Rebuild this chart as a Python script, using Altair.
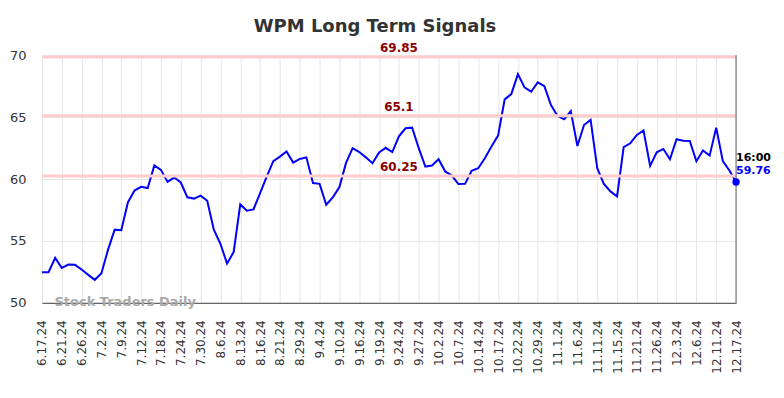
import altair as alt
import pandas as pd

labels = ["6.17.24", "6.21.24", "6.26.24", "7.2.24", "7.9.24", "7.12.24", "7.18.24",
          "7.24.24", "7.30.24", "8.6.24", "8.13.24", "8.16.24", "8.21.24", "8.29.24",
          "9.4.24", "9.10.24", "9.16.24", "9.19.24", "9.24.24", "9.27.24", "10.2.24",
          "10.7.24", "10.14.24", "10.17.24", "10.22.24", "10.29.24", "11.1.24", "11.6.24",
          "11.11.24", "11.15.24", "11.21.24", "11.26.24", "12.3.24", "12.6.24",
          "12.11.24", "12.17.24"]

values = [52.47, 52.47, 53.63, 52.82, 53.09, 53.07, 52.69, 52.26, 51.86, 52.39,
          54.30, 55.91, 55.86, 58.11, 59.07, 59.37, 59.27, 61.10, 60.74, 59.77,
          60.12, 59.72, 58.52, 58.42, 58.66, 58.24, 55.91, 54.77, 53.17, 54.10,
          57.95, 57.44, 57.55, 58.86, 60.20, 61.44, 61.81, 62.22, 61.33, 61.62,
          61.75, 59.67, 59.61, 57.92, 58.52, 59.35, 61.30, 62.49, 62.18, 61.75,
          61.28, 62.15, 62.52, 62.18, 63.45, 64.10, 64.15, 62.49, 61.01, 61.09,
          61.60, 60.61, 60.28, 59.59, 59.61, 60.66, 60.87, 61.68, 62.62, 63.51,
          66.43, 66.86, 68.47, 67.40, 67.05, 67.80, 67.50, 65.97, 65.09, 64.82,
          65.49, 62.67, 64.36, 64.77, 60.87, 59.61, 59.00, 58.59, 62.57, 62.89,
          63.56, 63.93, 61.06, 62.16, 62.43, 61.60, 63.21, 63.10, 63.08, 61.44,
          62.30, 61.89, 64.15, 61.44, 60.69, 59.76]

levels = [69.85, 65.1, 60.25]
level_text = ["69.85", "65.1", "60.25"]
level_pos = [54, 54, 54]
last_time = "16:00"
last_value = 59.76
watermark = "Stock Traders Daily"

n = len(values)
step = 3
df = pd.DataFrame({"i": list(range(n)), "v": values})
lv = pd.DataFrame({"v": levels, "t": level_text, "i": level_pos})
last = pd.DataFrame({"i": [n - 1], "v": [last_value], "t": [last_time],
                     "vt": [f"{last_value:.2f}"]})
wm = pd.DataFrame({"i": [1.9], "v": [50], "t": [watermark]})

arr = "[" + ",".join(f"'{s}'" for s in labels) + "]"
label_expr = f"{arr}[round(datum.value/{step})]"

FONT = "DejaVu Sans"

xscale = alt.Scale(domain=[0, n - 1], nice=False, zero=False, padding=0)
yscale = alt.Scale(domain=[50, 70], nice=False, zero=False)

x_axis = alt.Axis(values=list(range(0, n, step)), labelExpr=label_expr,
                  labelAngle=-90, labelFontSize=12, labelColor="#333333",
                  labelPadding=17, ticks=False, grid=True, gridColor="#e6e6e6",
                  domain=True, domainColor="#666666", domainWidth=1.2,
                  title=None, labelFont=FONT, labelOverlap=False)
y_axis = alt.Axis(values=[50, 55, 60, 65, 70], labelFontSize=13, labelColor="#333333",
                  labelPadding=16, ticks=False, grid=True, gridColor="#e6e6e6",
                  domain=False, title=None, labelFont=FONT)

X = alt.X("i:Q", scale=xscale, axis=x_axis)
Y = alt.Y("v:Q", scale=yscale, axis=y_axis)

line = alt.Chart(df).mark_line(color="#0000ff", strokeWidth=2).encode(x=X, y=Y)

rules = alt.Chart(lv).mark_rule(color="#ffcccc", strokeWidth=3).encode(y=Y)

level_labels = alt.Chart(lv).mark_text(
    color="#8b0000", fontWeight="bold", fontSize=12, font=FONT,
    baseline="alphabetic", align="center", dy=-5
).encode(x=X, y=Y, text="t:N")

right_rule = alt.Chart(last).mark_rule(color="#777777", strokeWidth=1.2).encode(x=X)

pt = alt.Chart(last).mark_circle(size=55, color="#0000ff", opacity=1).encode(x=X, y=Y)

t_time = alt.Chart(last).mark_text(
    color="#000000", fontWeight="bold", fontSize=11, font=FONT,
    align="left", baseline="middle", dy=-24
).encode(x=X, y=Y, text="t:N")

t_val = alt.Chart(last).mark_text(
    color="#0000ff", fontWeight="bold", fontSize=11, font=FONT,
    align="left", baseline="middle", dy=-11
).encode(x=X, y=Y, text="vt:N")

wm_text = alt.Chart(wm).mark_text(
    color="#aaaaaa", fontWeight="bold", fontSize=13, font=FONT,
    align="left", baseline="middle", dy=-1
).encode(x=X, y=Y, text="t:N")

chart = alt.layer(
    line, rules, right_rule, level_labels, pt, t_time, t_val, wm_text
).properties(
    width=695, height=248,
    title=alt.TitleParams("WPM Long Term Signals", font=FONT, fontSize=18,
                          fontWeight="bold", color="#333333", anchor="middle",
                          dx=-14, offset=6),
    autosize=alt.AutoSizeParams(type="none"),
    padding={"left": 34, "top": 47, "right": 40, "bottom": 87},
).configure_view(stroke=None)

chart.save("out.html", embed_options={"renderer": "svg", "actions": False})
